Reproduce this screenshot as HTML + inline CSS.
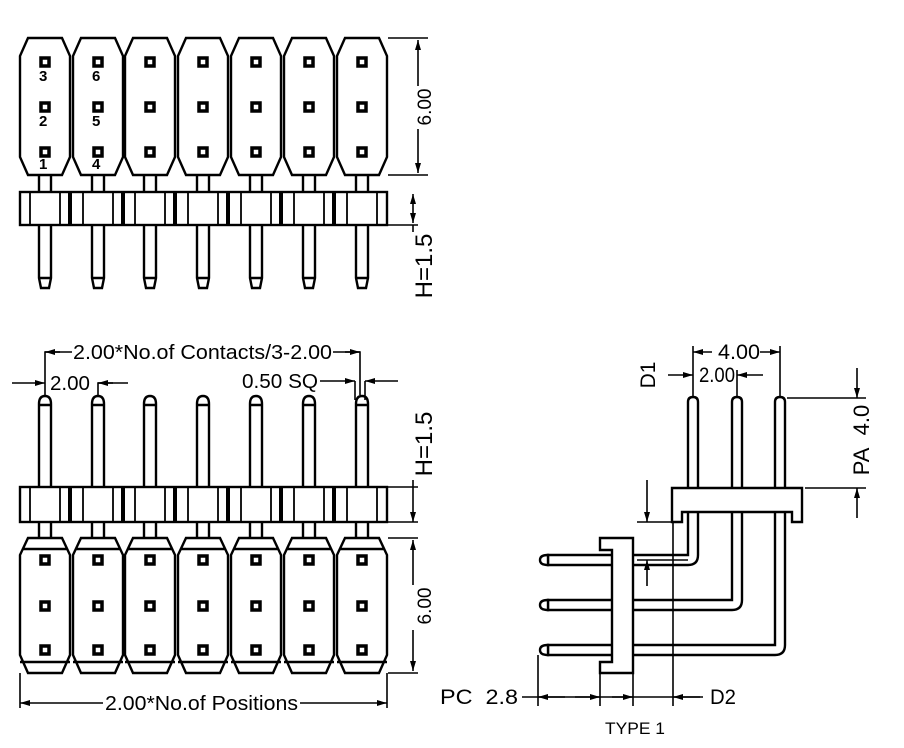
<!DOCTYPE html>
<html><head><meta charset="utf-8"><style>
html,body{margin:0;padding:0;background:#fff}
svg{display:block}
text{font-family:"Liberation Sans",sans-serif;fill:#000}
</style></head><body>
<svg width="904" height="748" viewBox="0 0 904 748" xmlns="http://www.w3.org/2000/svg">
<defs>
<marker id="a" viewBox="0 0 10 6" refX="10" refY="3" markerWidth="11" markerHeight="6" orient="auto-start-reverse" markerUnits="userSpaceOnUse"><path d="M0,0 L10,3 L0,6 z" fill="#000"/></marker>
</defs>
<g id="gen"></g>
<g stroke="#000" fill="none" stroke-width="1.6">
<line x1="388" y1="38" x2="428" y2="38"/><line x1="388" y1="175" x2="428" y2="175"/>
<line x1="418" y1="40" x2="418" y2="86" marker-start="url(#a)"/><line x1="418" y1="129" x2="418" y2="173" marker-end="url(#a)"/>
<line x1="388" y1="225" x2="418" y2="225"/>
<line x1="413" y1="194" x2="413" y2="223" marker-start="url(#a)" marker-end="url(#a)"/>
<line x1="413" y1="225" x2="413" y2="232"/>
<polyline points="45,395 45,352 72,352"/><line x1="45" y1="352" x2="60" y2="352" marker-start="url(#a)"/>
<polyline points="333,352 360,352 360,395"/><line x1="345" y1="352" x2="360" y2="352" marker-end="url(#a)"/>
<line x1="12" y1="383" x2="45" y2="383" marker-end="url(#a)"/>
<polyline points="98,395 98,383 128,383"/><line x1="113" y1="383" x2="98" y2="383" marker-end="url(#a)"/>
<line x1="320" y1="381" x2="355" y2="381" marker-end="url(#a)"/>
<line x1="398" y1="381" x2="365" y2="381" marker-end="url(#a)"/>
<line x1="355" y1="381" x2="355" y2="400"/><line x1="365" y1="381" x2="365" y2="400"/>
<line x1="413" y1="480" x2="413" y2="522" marker-end="url(#a)"/><line x1="388" y1="487" x2="418" y2="487"/><line x1="388" y1="522" x2="418" y2="522"/>
<line x1="388" y1="538" x2="418" y2="538"/><line x1="388" y1="673" x2="418" y2="673"/>
<line x1="413" y1="540" x2="413" y2="585" marker-start="url(#a)"/><line x1="413" y1="630" x2="413" y2="671" marker-end="url(#a)"/>
<line x1="20" y1="673" x2="20" y2="708"/><line x1="387" y1="673" x2="387" y2="708"/>
<line x1="20" y1="703" x2="103" y2="703" marker-start="url(#a)"/><line x1="300" y1="703" x2="387" y2="703" marker-end="url(#a)"/>
</g>
<g font-size="20">
<text x="73" y="359" textLength="259" lengthAdjust="spacingAndGlyphs">2.00*No.of Contacts/3-2.00</text>
<text x="50" y="390" textLength="40" lengthAdjust="spacingAndGlyphs">2.00</text>
<text x="242" y="388" textLength="76" lengthAdjust="spacingAndGlyphs">0.50 SQ</text>
<text x="105" y="710" textLength="193" lengthAdjust="spacingAndGlyphs">2.00*No.of Positions</text>
<text transform="translate(431,107) rotate(-90)" text-anchor="middle" font-size="19">6.00</text>
<text transform="translate(432,266) rotate(-90)" text-anchor="middle" font-size="24">H=1.5</text>
<text transform="translate(432,444) rotate(-90)" text-anchor="middle" font-size="24">H=1.5</text>
<text transform="translate(431,606) rotate(-90)" text-anchor="middle" font-size="19">6.00</text>
</g>
<g stroke="#000" stroke-width="2.4" fill="#fff">
<path d="M688,402 Q688,397 693,397 Q698,397 698,402 L698,555 Q698,565 688,565 L548,565 L548,555 L688,555 Z"/>
<path d="M732,402 Q732,397 737,397 Q742,397 742,402 L742,600 Q742,610 732,610 L548,610 L548,600 L732,600 Z"/>
<path d="M775,402 Q775,397 780,397 Q785,397 785,402 L785,645 Q785,655 775,655 L548,655 L548,645 L775,645 Z"/>
<path d="M548,555 Q540,555 540,560 Q540,565 548,565Z M548,600 Q540,600 540,605 Q540,610 548,610Z M548,645 Q540,645 540,650 Q540,655 548,655Z"/>
<path d="M672,488 L802,488 L802,522 L792,522 L792,512 L682,512 L682,522 L672,522 Z"/>
<path d="M600,538 L633,538 L633,673 L600,673 L600,662 L612,662 L612,550 L600,550 Z"/>
<line x1="673" y1="522" x2="673" y2="706" stroke-width="1.6"/>
</g>
<g stroke="#000" fill="none" stroke-width="1.6">
<line x1="693" y1="397" x2="693" y2="346"/><line x1="780" y1="397" x2="780" y2="346"/><line x1="737" y1="397" x2="737" y2="370"/>
<line x1="693" y1="352" x2="712" y2="352" marker-start="url(#a)"/><line x1="760" y1="352" x2="780" y2="352" marker-end="url(#a)"/>
<line x1="668" y1="375" x2="693" y2="375" marker-end="url(#a)"/>
<line x1="763" y1="375" x2="737" y2="375" marker-end="url(#a)"/>
<line x1="787" y1="398" x2="866" y2="398"/><line x1="805" y1="488" x2="866" y2="488"/>
<line x1="857" y1="368" x2="857" y2="398" marker-end="url(#a)"/><line x1="857" y1="518" x2="857" y2="488" marker-end="url(#a)"/>
<line x1="637" y1="522" x2="672" y2="522"/><line x1="637" y1="560" x2="688" y2="560"/>
<line x1="647" y1="480" x2="647" y2="522" marker-end="url(#a)"/><line x1="647" y1="586" x2="647" y2="560" marker-end="url(#a)"/>
<line x1="538" y1="655" x2="538" y2="706"/><line x1="600" y1="673" x2="600" y2="706"/><line x1="633" y1="673" x2="633" y2="706"/>
<line x1="522" y1="697" x2="703" y2="697"/>
<line x1="565" y1="697" x2="538" y2="697" marker-end="url(#a)"/><line x1="575" y1="697" x2="600" y2="697" marker-end="url(#a)"/>
<line x1="612" y1="697" x2="633" y2="697" marker-end="url(#a)"/><line x1="700" y1="697" x2="673" y2="697" marker-end="url(#a)"/>
</g>
<g font-size="21">
<text x="718" y="359" textLength="42" lengthAdjust="spacingAndGlyphs">4.00</text>
<text x="699" y="382" textLength="36" lengthAdjust="spacingAndGlyphs">2.00</text>
<text x="440" y="704" textLength="78" lengthAdjust="spacingAndGlyphs">PC&#160;&#160;2.8</text>
<text x="710" y="704" textLength="26" lengthAdjust="spacingAndGlyphs">D2</text>
<text x="605" y="734" font-size="17" textLength="60" lengthAdjust="spacingAndGlyphs">TYPE 1</text>
<text transform="translate(655,375) rotate(-90)" text-anchor="middle">D1</text>
<text transform="translate(869,440) rotate(-90)" text-anchor="middle" font-size="22">PA&#160;&#160;4.0</text>
</g>
<script>
(function(){
var NS="http://www.w3.org/2000/svg";
var cs=[45,98,150,203,256,309,362];
var g=document.getElementById('gen');
function el(t,a){var e=document.createElementNS(NS,t);for(var k in a)e.setAttribute(k,a[k]);g.appendChild(e);return e;}
var SW=2.4;
cs.forEach(function(c,i){
 el('path',{d:'M'+(c-6)+',175 L'+(c-6)+',192 M'+(c+6)+',175 L'+(c+6)+',192',stroke:'#000','stroke-width':SW,fill:'none'});
 el('path',{d:'M'+(c-17)+',38 L'+(c+17)+',38 L'+(c+25)+',56 L'+(c+25)+',157 L'+(c+17)+',175 L'+(c-17)+',175 L'+(c-25)+',157 L'+(c-25)+',56 Z',fill:'#fff',stroke:'#000','stroke-width':SW});
 [62,107,152].forEach(function(y){el('rect',{x:c-4,y:y-4,width:8,height:8,fill:'#fff',stroke:'#000','stroke-width':3.5});});
 el('path',{d:'M'+(c-6)+',225 L'+(c-6)+',278 L'+(c-4)+',288 L'+(c+4)+',288 L'+(c+6)+',278 L'+(c+6)+',225 M'+(c-6)+',278 L'+(c+6)+',278',fill:'#fff',stroke:'#000','stroke-width':SW});
 el('path',{d:'M'+(c-6)+',487 L'+(c-6)+',404 Q'+(c-6)+',396 '+c+',396 Q'+(c+6)+',396 '+(c+6)+',404 L'+(c+6)+',487 M'+(c-6)+',405 L'+(c+6)+',405',fill:'#fff',stroke:'#000','stroke-width':SW});
 el('path',{d:'M'+(c-6)+',522 L'+(c-6)+',538 M'+(c+6)+',522 L'+(c+6)+',538',stroke:'#000','stroke-width':SW,fill:'none'});
 el('path',{d:'M'+(c-17)+',538 L'+(c+17)+',538 L'+(c+25)+',555 L'+(c+25)+',655 L'+(c+17)+',673 L'+(c-17)+',673 L'+(c-25)+',655 L'+(c-25)+',555 Z M'+(c-25)+',662 L'+(c+25)+',662 M'+(c-22)+',549 L'+(c+22)+',549',fill:'#fff',stroke:'#000','stroke-width':SW});
 [560,606,650].forEach(function(y){el('rect',{x:c-4,y:y-4,width:8,height:8,fill:'#fff',stroke:'#000','stroke-width':3.5});});
});
[[192,225],[487,522]].forEach(function(b){
 el('rect',{x:20,y:b[0],width:367,height:b[1]-b[0],fill:'#fff',stroke:'#000','stroke-width':SW});
 cs.forEach(function(c,i){
  el('line',{x1:c-15,y1:b[0],x2:c-15,y2:b[1],stroke:'#000','stroke-width':1.8});
  el('line',{x1:c+15,y1:b[0],x2:c+15,y2:b[1],stroke:'#000','stroke-width':1.8});
  if(i<6)el('line',{x1:c+25,y1:b[0],x2:c+25,y2:b[1],stroke:'#000','stroke-width':4});
 });
});
var lab=[[39,81,'3'],[39,126,'2'],[39,169,'1'],[92,81,'6'],[92,126,'5'],[92,169,'4']];
lab.forEach(function(l){var t=el('text',{x:l[0],y:l[1],'font-size':15,'font-weight':'bold'});t.textContent=l[2];});
})();
</script>
</svg>
</body></html>
